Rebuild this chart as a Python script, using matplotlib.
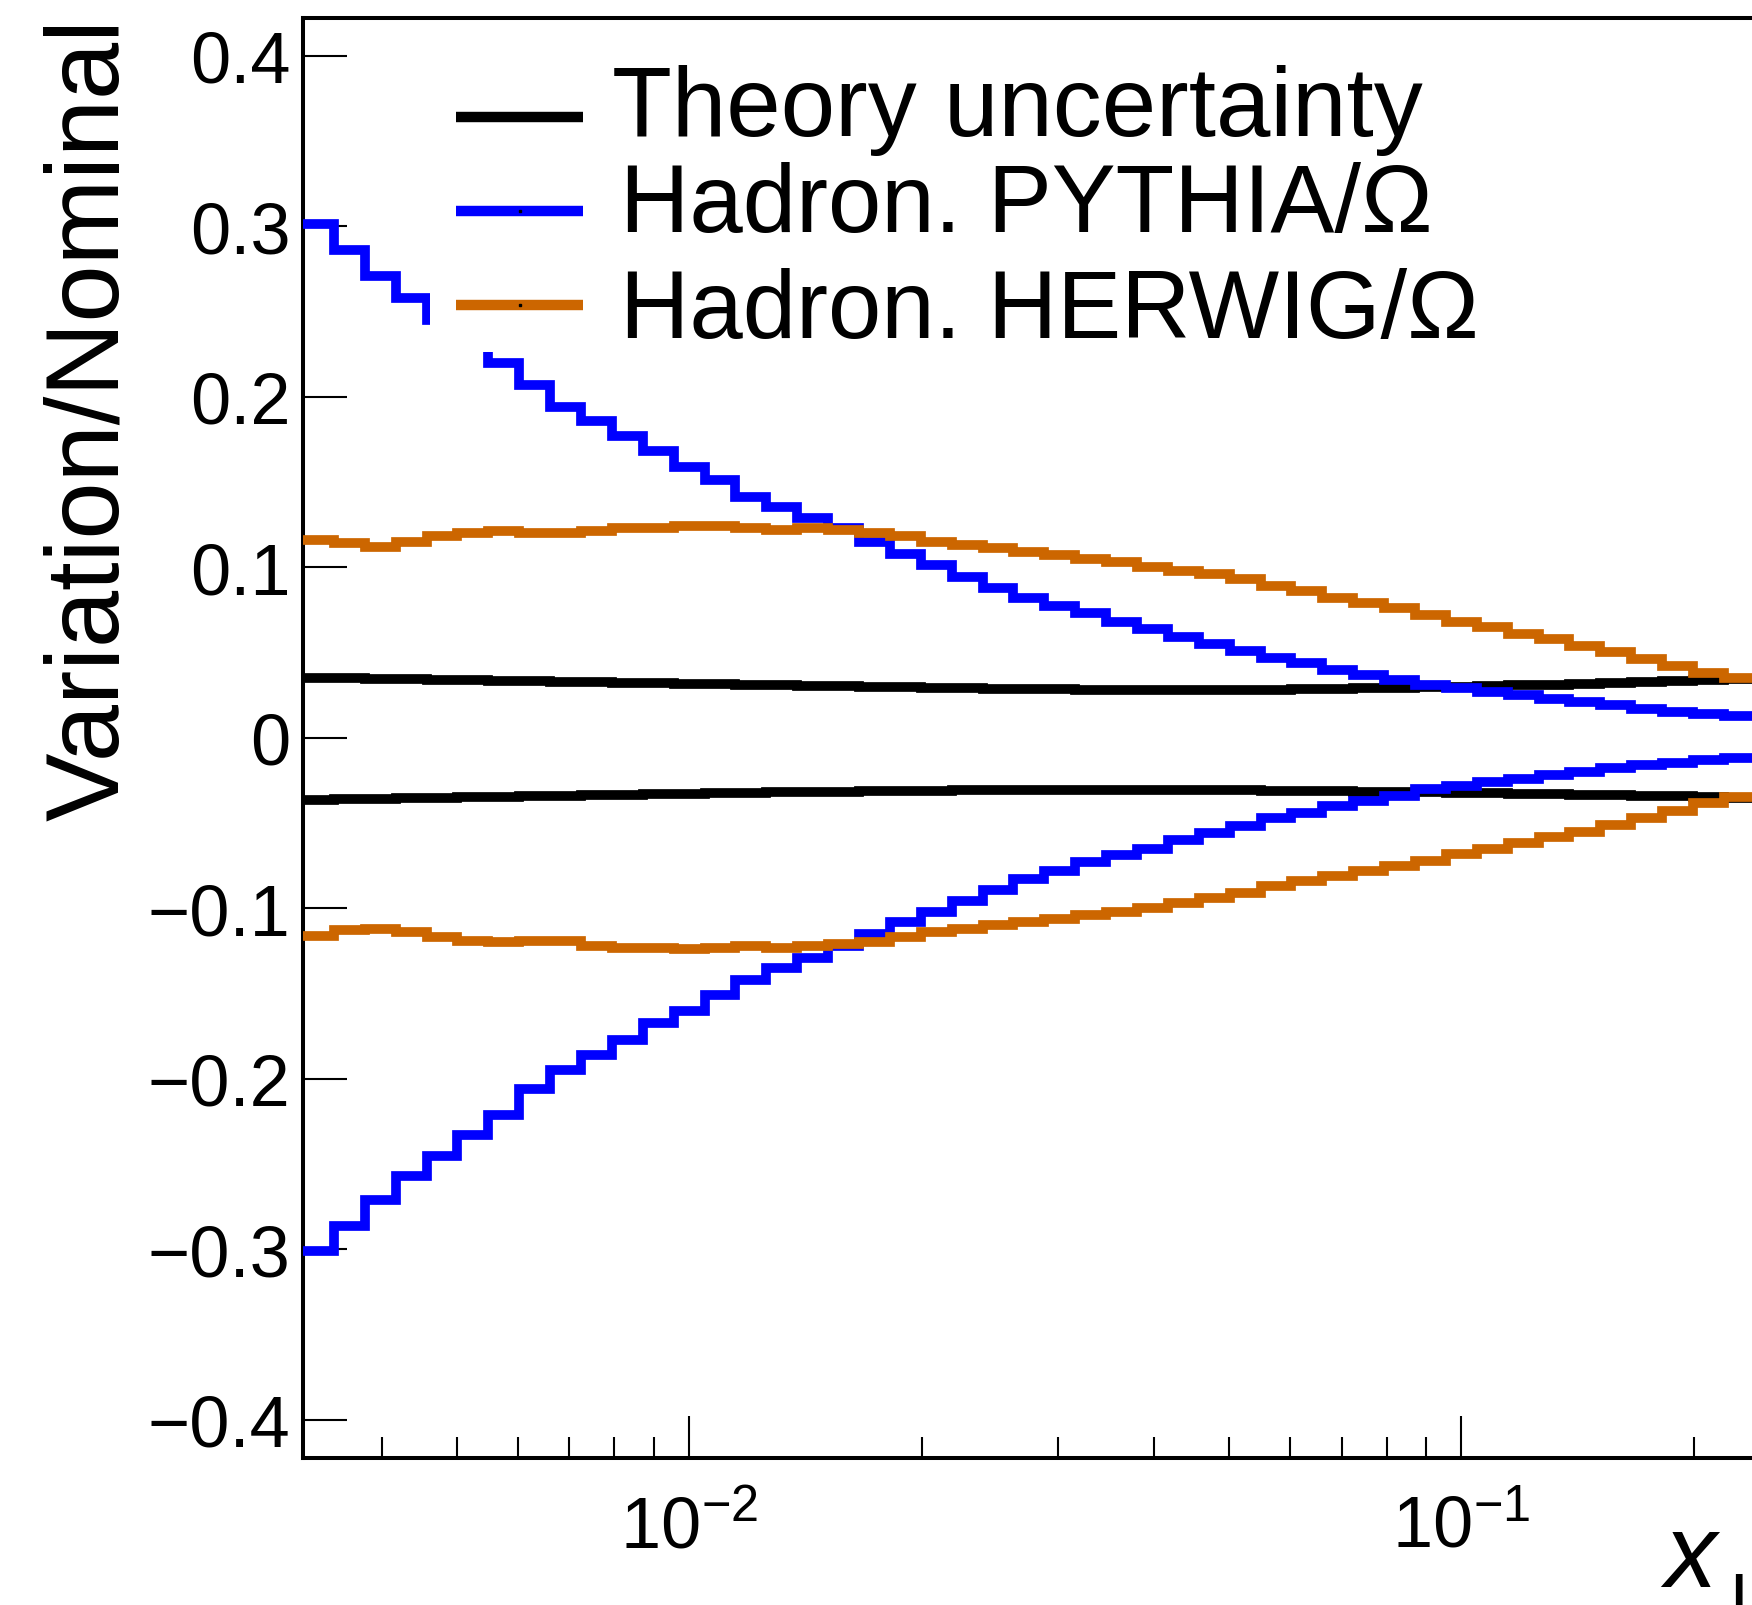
import numpy as np
import matplotlib
matplotlib.use("Agg")
import matplotlib.pyplot as plt
from matplotlib.lines import Line2D
from matplotlib.patches import Rectangle
from matplotlib.ticker import NullLocator, NullFormatter, LogLocator

plt.rcParams["font.family"] = ["Liberation Sans", "DejaVu Sans"]
plt.rcParams["mathtext.fontset"] = "custom"
plt.rcParams["mathtext.rm"] = "Liberation Sans"
plt.rcParams["mathtext.it"] = "Liberation Sans:italic"

# binning: 25 log bins per decade starting at 10^-2.5 (47 bins visible)
bin_edges = np.logspace(-2.5, -0.62, 48)

theory_up = [0.0350, 0.0348, 0.0345, 0.0342, 0.0340, 0.0337, 0.0334, 0.0331, 0.0328, 0.0325,
             0.0322, 0.0320, 0.0317, 0.0314, 0.0311, 0.0308, 0.0305, 0.0302, 0.0299, 0.0296,
             0.0293, 0.0290, 0.0288, 0.0286, 0.0284, 0.0282, 0.0281, 0.0280, 0.0280, 0.0280,
             0.0281, 0.0282, 0.0284, 0.0286, 0.0289, 0.0292, 0.0296, 0.0300, 0.0304, 0.0308,
             0.0312, 0.0317, 0.0322, 0.0327, 0.0333, 0.0339, 0.0345]
theory_dn = [-0.0365, -0.0362, -0.0358, -0.0355, -0.0352, -0.0349, -0.0346, -0.0343, -0.0340, -0.0337,
             -0.0334, -0.0331, -0.0328, -0.0325, -0.0322, -0.0320, -0.0318, -0.0316, -0.0314, -0.0312,
             -0.0310, -0.0309, -0.0308, -0.0307, -0.0306, -0.0306, -0.0306, -0.0306, -0.0307, -0.0308,
             -0.0309, -0.0310, -0.0312, -0.0314, -0.0316, -0.0318, -0.0320, -0.0322, -0.0325, -0.0328,
             -0.0331, -0.0334, -0.0337, -0.0340, -0.0344, -0.0348, -0.0352]

pythia_up = [0.301, 0.286, 0.271, 0.258, 0.245, 0.233, 0.220, 0.207, 0.194, 0.186,
             0.177, 0.168, 0.159, 0.151, 0.141, 0.135, 0.129, 0.123, 0.115, 0.108,
             0.101, 0.094, 0.088, 0.082, 0.077, 0.073, 0.068, 0.064, 0.059, 0.055,
             0.051, 0.047, 0.044, 0.040, 0.037, 0.034, 0.031, 0.029, 0.027, 0.025,
             0.023, 0.021, 0.019, 0.017, 0.015, 0.014, 0.013]
pythia_dn = [-0.301, -0.286, -0.271, -0.257, -0.245, -0.233, -0.221, -0.206, -0.195, -0.186,
             -0.177, -0.167, -0.160, -0.151, -0.142, -0.135, -0.129, -0.122, -0.115, -0.108,
             -0.102, -0.096, -0.089, -0.083, -0.078, -0.073, -0.069, -0.065, -0.060, -0.056,
             -0.052, -0.047, -0.044, -0.040, -0.037, -0.034, -0.030, -0.028, -0.026, -0.024,
             -0.022, -0.020, -0.018, -0.016, -0.015, -0.013, -0.012]

herwig_up = [0.116, 0.114, 0.112, 0.115, 0.118, 0.120, 0.121, 0.120, 0.120, 0.121,
             0.123, 0.123, 0.124, 0.124, 0.123, 0.122, 0.123, 0.122, 0.120, 0.118,
             0.115, 0.113, 0.111, 0.109, 0.107, 0.105, 0.103, 0.100, 0.098, 0.096,
             0.093, 0.089, 0.086, 0.082, 0.079, 0.076, 0.072, 0.068, 0.065, 0.061,
             0.058, 0.054, 0.050, 0.046, 0.042, 0.038, 0.035]
herwig_dn = [-0.116, -0.113, -0.112, -0.114, -0.117, -0.119, -0.120, -0.119, -0.119, -0.122,
             -0.123, -0.123, -0.124, -0.123, -0.122, -0.123, -0.122, -0.121, -0.120, -0.117,
             -0.114, -0.112, -0.110, -0.108, -0.106, -0.104, -0.102, -0.100, -0.097, -0.094,
             -0.091, -0.087, -0.084, -0.081, -0.078, -0.075, -0.072, -0.068, -0.065, -0.062,
             -0.058, -0.055, -0.051, -0.047, -0.043, -0.038, -0.035]

legend_labels = ["Theory uncertainty", "Hadron. PYTHIA/\u03a9", "Hadron. HERWIG/\u03a9"]
colors = ["black", "#0000ff", "#cc6600"]

yticks = [-0.4, -0.3, -0.2, -0.1, 0.0, 0.1, 0.2, 0.3, 0.4]
ytick_labels = ["\u22120.4", "\u22120.3", "\u22120.2", "\u22120.1", "0", "0.1", "0.2", "0.3", "0.4"]

W, H = 1752, 1606
fig = plt.figure(figsize=(W / 100, H / 100), dpi=100)


def fx(px):
    return px / W


def fy(py):
    return 1 - py / H


# axes runs a little past the right edge of the picture (cropped like the original)
ax = fig.add_axes([fx(303), fy(1458.5), (1754.8 - 303) / W, 1439.5 / H])

series = [(theory_up, theory_dn), (pythia_up, pythia_dn), (herwig_up, herwig_dn)]
for i, (up, dn) in enumerate(series):
    for vals in (up, dn):
        ax.stairs(vals, bin_edges, baseline=None, color=colors[i], lw=7, zorder=2 + i)

ax.set_xscale("log")
ax.set_xlim(bin_edges[0], bin_edges[-1])
ax.set_ylim(-0.422, 0.422)
ax.set_yticks(yticks)
ax.set_yticklabels(ytick_labels)
ax.yaxis.set_minor_locator(NullLocator())
ax.xaxis.set_major_locator(LogLocator(base=10))
ax.xaxis.set_minor_locator(LogLocator(base=10, subs=np.arange(2, 10)))
ax.xaxis.set_minor_formatter(NullFormatter())

ax.tick_params(axis="both", which="both", direction="in", top=False, right=False,
               labelsize=52, width=1.5, colors="black")
ax.tick_params(axis="y", which="major", length=32, pad=9)
ax.tick_params(axis="x", which="major", length=30, pad=26)
ax.tick_params(axis="x", which="minor", length=15)
for sp in ax.spines.values():
    sp.set_linewidth(2.9)

# y title, right-aligned to top of axis (ROOT style)
fig.text(fx(92), fy(18), "Variation/Nominal", rotation=90, fontsize=74,
         ha="center", va="top")

# x title at bottom right, partly cut by the picture edge
fig.text(fx(1664), fy(1587), "x", fontsize=75, style="italic", ha="left", va="baseline")
fig.text(fx(1729), fy(1624), "L", fontsize=52, ha="left", va="baseline")

# legend box (white, no border) covering the curves
fig.add_artist(Rectangle((fx(430), fy(353)), fx(1500) - fx(430), fy(23) - fy(353),
                         facecolor="white", edgecolor="none", zorder=5))
leg_y = [118, 212, 306]
text_base = [136, 232, 338]
text_x = [612, 620, 620]
text_size = [70.5, 69, 69]
for lab, c, ly, tb, tx, ts in zip(legend_labels, colors, leg_y, text_base, text_x, text_size):
    fig.add_artist(Line2D([fx(456), fx(583)], [fy(ly), fy(ly)], color=c, lw=7.5,
                          solid_capstyle="butt", zorder=6))
    fig.add_artist(Line2D([fx(519.5)], [fy(ly)], marker="s", markersize=1.5,
                          color="black", lw=0, zorder=7))
    fig.text(fx(tx), fy(tb), lab, fontsize=ts, ha="left", va="baseline", zorder=8)

fig.savefig("out.png", dpi=100)
